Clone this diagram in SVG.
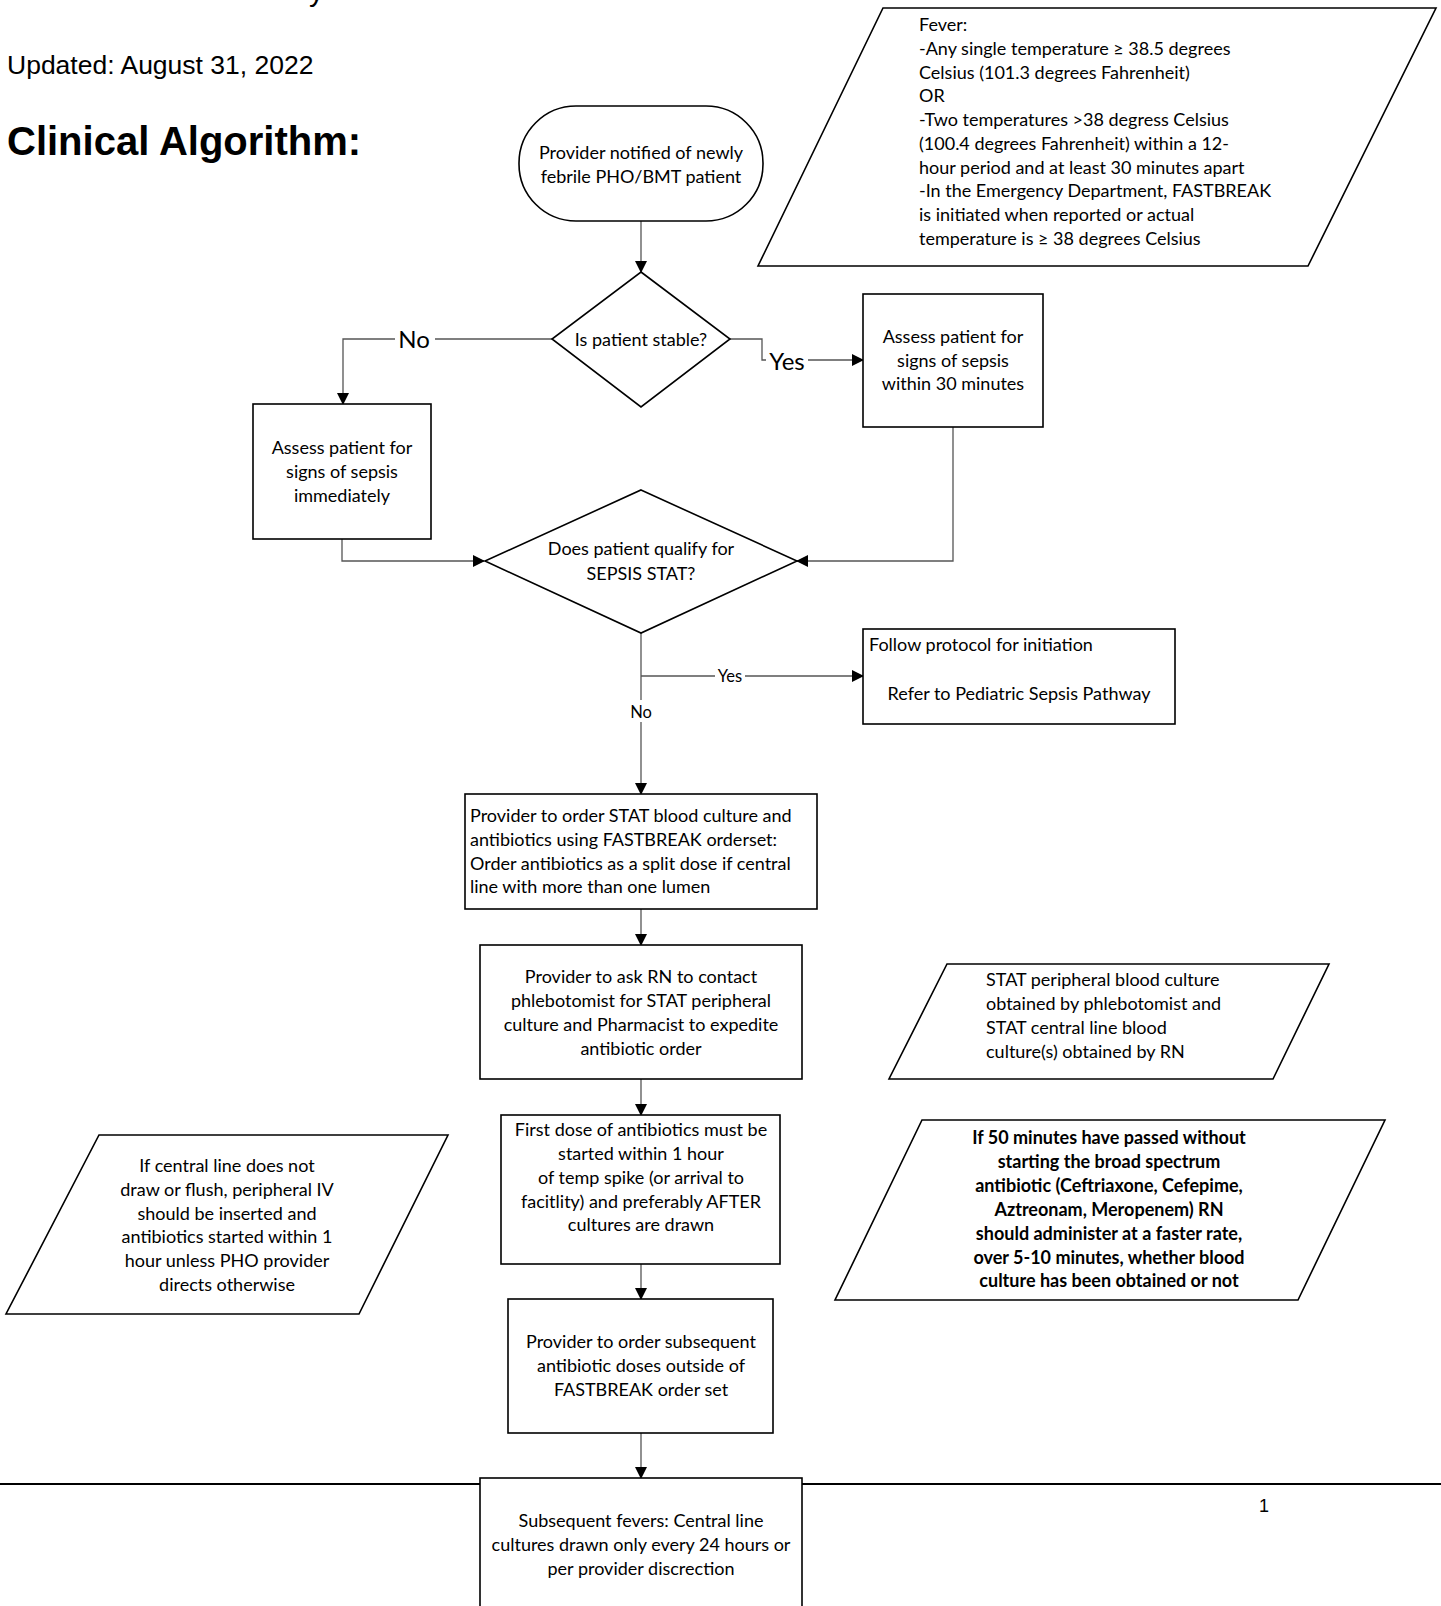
<svg xmlns="http://www.w3.org/2000/svg" width="1441" height="1606" viewBox="0 0 1441 1606">
<defs>
<marker id="arr" markerWidth="12" markerHeight="12" refX="11" refY="6" orient="auto" markerUnits="userSpaceOnUse">
<path d="M0,0 L12,6 L0,12 Z" fill="#000"/>
</marker>
<style>
.shape{fill:#fff;stroke:#000;stroke-width:1.6}
.conn{fill:none;stroke:#555;stroke-width:1.3}
.t{font-family:Lato,"Open Sans","Liberation Sans",sans-serif;font-size:18px;fill:#000}
.c{text-anchor:middle}
.b{font-weight:bold}
.lbl{font-family:Lato,"Open Sans","Liberation Sans",sans-serif;fill:#000;text-anchor:middle}
.hdr{font-family:"Liberation Sans",Arial,sans-serif;fill:#000}
</style>
</defs>
<rect width="1441" height="1606" fill="#fff"/>

<g id="header">
<text class="hdr" x="309" y="1" font-size="30">y</text>
<text class="hdr" x="7" y="74" font-size="26.5">Updated: August 31, 2022</text>
<text class="hdr" x="7" y="155" font-size="40" font-weight="bold">Clinical Algorithm:</text>
</g>

<line x1="0" y1="1484" x2="1441" y2="1484" stroke="#000" stroke-width="2.2"/>
<text class="hdr" x="1259" y="1512" font-size="18">1</text>

<g id="connectors">
<path class="conn" d="M641,221 V272" marker-end="url(#arr)"/>
<path class="conn" d="M552,339 H343 V404" marker-end="url(#arr)"/>
<path class="conn" d="M730,339 H762 V360 H863" marker-end="url(#arr)"/>
<path class="conn" d="M342,539 V561 H484" marker-end="url(#arr)"/>
<path class="conn" d="M953,427 V561 H797" marker-end="url(#arr)"/>
<path class="conn" d="M641,633 V794" marker-end="url(#arr)"/>
<path class="conn" d="M641,676 H863" marker-end="url(#arr)"/>
<path class="conn" d="M641,909 V945" marker-end="url(#arr)"/>
<path class="conn" d="M641,1079 V1115" marker-end="url(#arr)"/>
<path class="conn" d="M641,1264 V1299" marker-end="url(#arr)"/>
<path class="conn" d="M641,1433 V1478" marker-end="url(#arr)"/>
<rect x="395" y="326" width="40" height="26" fill="#fff"/>
<text class="lbl" x="414" y="348" font-size="24">No</text>
<rect x="766" y="348" width="42" height="26" fill="#fff"/>
<text class="lbl" x="787" y="370" font-size="24">Yes</text>
<rect x="715" y="666" width="30" height="20" fill="#fff"/>
<text class="lbl" x="730" y="682" font-size="16.5">Yes</text>
<rect x="628" y="700" width="26" height="22" fill="#fff"/>
<text class="lbl" x="641" y="718" font-size="16.5">No</text>
</g>

<g id="fever">
<path class="shape" d="M883,8 H1436 L1308,266 H758 Z"/>
<text class="t" x="919">
<tspan x="919" y="31">Fever:</tspan>
<tspan x="919" y="55">-Any single temperature ≥ 38.5 degrees</tspan>
<tspan x="919" y="79">Celsius (101.3 degrees Fahrenheit)</tspan>
<tspan x="919" y="102">OR</tspan>
<tspan x="919" y="126">-Two temperatures &gt;38 degress Celsius</tspan>
<tspan x="919" y="150">(100.4 degrees Fahrenheit) within a 12-</tspan>
<tspan x="919" y="174">hour period and at least 30 minutes apart</tspan>
<tspan x="919" y="197">-In the Emergency Department, FASTBREAK</tspan>
<tspan x="919" y="221">is initiated when reported or actual</tspan>
<tspan x="919" y="245">temperature is ≥ 38 degrees Celsius</tspan>
</text>
</g>

<g id="start">
<rect class="shape" x="519" y="106" width="244" height="115" rx="57" ry="57"/>
<text class="t c"><tspan x="641" y="159">Provider notified of newly</tspan><tspan x="641" y="183">febrile PHO/BMT patient</tspan></text>
</g>

<g id="stable">
<path class="shape" d="M641,272 L730,339 L641,407 L552,339 Z"/>
<text class="t c" x="641" y="346">Is patient stable?</text>
</g>

<g id="assess30">
<rect class="shape" x="863" y="294" width="180" height="133"/>
<text class="t c"><tspan x="953" y="343">Assess patient for</tspan><tspan x="953" y="367">signs of sepsis</tspan><tspan x="953" y="390">within 30 minutes</tspan></text>
</g>

<g id="assessNow">
<rect class="shape" x="253" y="404" width="178" height="135"/>
<text class="t c"><tspan x="342" y="454">Assess patient for</tspan><tspan x="342" y="478">signs of sepsis</tspan><tspan x="342" y="502">immediately</tspan></text>
</g>

<g id="sepsisStat">
<path class="shape" d="M641,490 L797,561 L641,633 L485,561 Z"/>
<text class="t c"><tspan x="641" y="555">Does patient qualify for</tspan><tspan x="641" y="580">SEPSIS STAT?</tspan></text>
</g>

<g id="protocol">
<rect class="shape" x="863" y="629" width="312" height="95"/>
<text class="t"><tspan x="869" y="651">Follow protocol for initiation</tspan><tspan x="1019" y="700" text-anchor="middle">Refer to Pediatric Sepsis Pathway</tspan></text>
</g>

<g id="order">
<rect class="shape" x="465" y="794" width="352" height="115"/>
<text class="t"><tspan x="470" y="822">Provider to order STAT blood culture and</tspan><tspan x="470" y="846">antibiotics using FASTBREAK orderset:</tspan><tspan x="470" y="870">Order antibiotics as  a split dose if central</tspan><tspan x="470" y="893">line with more than one lumen</tspan></text>
</g>

<g id="askRN">
<rect class="shape" x="480" y="945" width="322" height="134"/>
<text class="t c"><tspan x="641" y="983">Provider to ask RN to contact</tspan><tspan x="641" y="1007">phlebotomist for STAT peripheral</tspan><tspan x="641" y="1031">culture and  Pharmacist  to expedite</tspan><tspan x="641" y="1055">antibiotic order</tspan></text>
</g>

<g id="statCulture">
<path class="shape" d="M947,964 H1329 L1273,1079 H889 Z"/>
<text class="t"><tspan x="986" y="986">STAT peripheral blood culture</tspan><tspan x="986" y="1010">obtained by phlebotomist and</tspan><tspan x="986" y="1034">STAT central line blood</tspan><tspan x="986" y="1058">culture(s) obtained by RN</tspan></text>
</g>

<g id="firstDose">
<rect class="shape" x="501" y="1115" width="279" height="149"/>
<text class="t c"><tspan x="641" y="1136">First dose of antibiotics must be</tspan><tspan x="641" y="1160">started within 1 hour</tspan><tspan x="641" y="1184">of temp spike (or arrival to</tspan><tspan x="641" y="1208">facitlity) and preferably  AFTER</tspan><tspan x="641" y="1231">cultures are drawn</tspan></text>
</g>

<g id="centralLine">
<path class="shape" d="M99,1135 H448 L359,1314 H6 Z"/>
<text class="t c"><tspan x="227" y="1172">If central line does not</tspan><tspan x="227" y="1196">draw or flush, peripheral IV</tspan><tspan x="227" y="1220">should be inserted and</tspan><tspan x="227" y="1243">antibiotics started within 1</tspan><tspan x="227" y="1267">hour unless PHO provider</tspan><tspan x="227" y="1291">directs otherwise</tspan></text>
</g>

<g id="fiftyMin">
<path class="shape" d="M922,1120 H1385 L1298,1300 H835 Z"/>
<text class="t c b"><tspan x="1109" y="1144">If 50 minutes have passed without</tspan><tspan x="1109" y="1168">starting the broad spectrum</tspan><tspan x="1109" y="1192">antibiotic (Ceftriaxone, Cefepime,</tspan><tspan x="1109" y="1216">Aztreonam, Meropenem) RN</tspan><tspan x="1109" y="1240">should  administer  at a faster rate,</tspan><tspan x="1109" y="1264">over 5-10 minutes, whether blood</tspan><tspan x="1109" y="1287">culture has been obtained or not</tspan></text>
</g>

<g id="subsequentDoses">
<rect class="shape" x="508" y="1299" width="265" height="134"/>
<text class="t c"><tspan x="641" y="1348">Provider to order subsequent</tspan><tspan x="641" y="1372">antibiotic doses outside of</tspan><tspan x="641" y="1396">FASTBREAK order set</tspan></text>
</g>

<g id="subsequentFevers">
<rect class="shape" x="480" y="1478" width="322" height="140"/>
<text class="t c"><tspan x="641" y="1527">Subsequent fevers: Central line</tspan><tspan x="641" y="1551">cultures drawn only every 24 hours or</tspan><tspan x="641" y="1575">per provider discrection</tspan></text>
</g>
</svg>
